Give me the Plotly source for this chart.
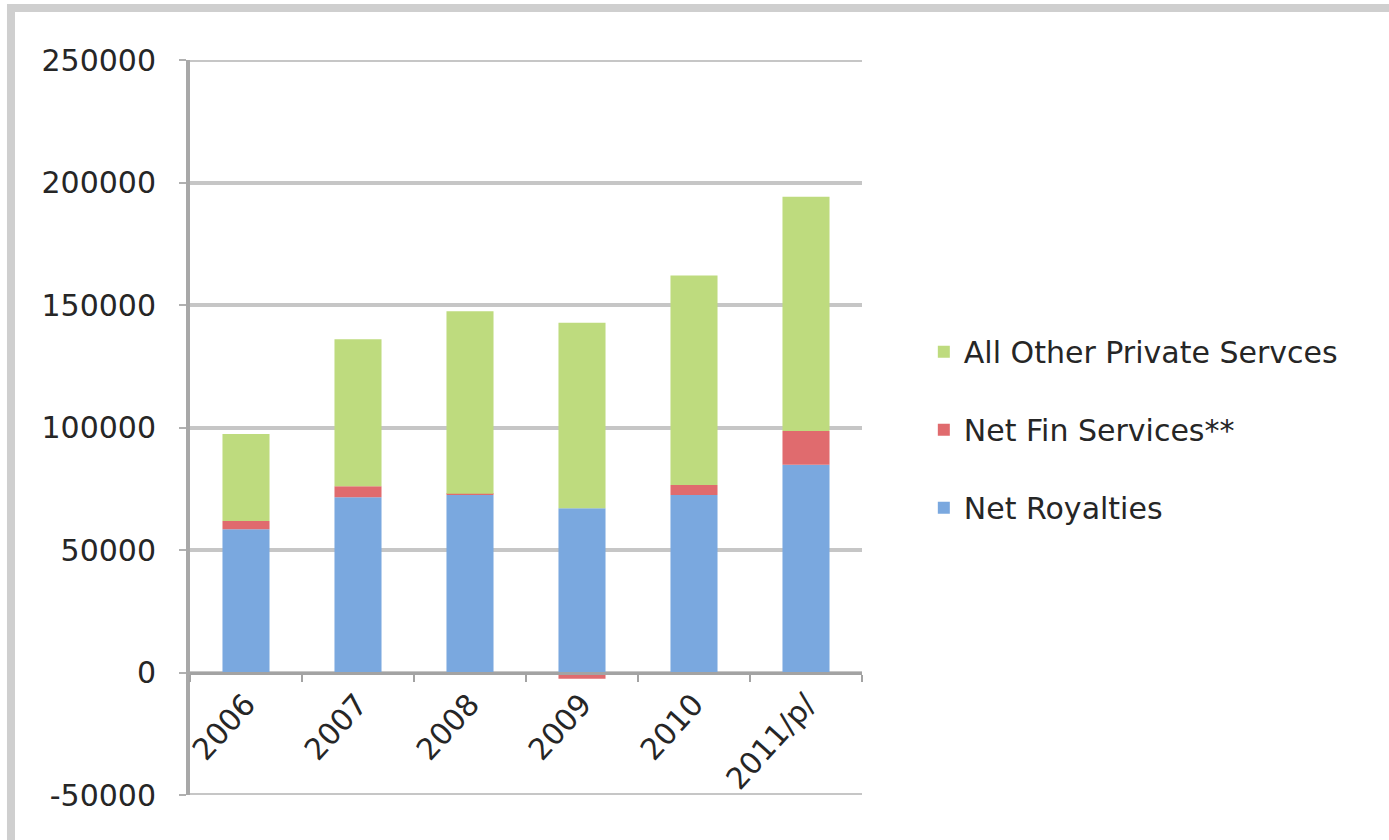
import plotly.graph_objects as go

# Categories and stacked series (thousands of USD)
years = ["2006", "2007", "2008", "2009", "2010", "2011/p/"]
net_royalties = [58500, 71500, 72500, 67000, 72500, 84800]
net_fin_services = [3300, 4500, 500, -2500, 4000, 13800]
all_other_private = [35500, 60000, 74500, 75800, 85500, 95600]

y_tickvals = [-50000, 0, 50000, 100000, 150000, 200000, 250000]
y_ticktext = ["-50000", "0", "50000", "100000", "150000", "200000", "250000"]
y_min, y_max = -50000, 250000

FONT = "DejaVu Sans"
TEXT = "#262626"
GRID = "#c6c6c6"

fig = go.Figure()
fig.add_trace(go.Bar(x=years, y=net_royalties, name="Net Royalties",
                     marker=dict(color="#7aa8df", line=dict(width=0)),
                     legendgroup="r", legendrank=3))
fig.add_trace(go.Bar(x=years, y=net_fin_services, name="Net Fin Services**",
                     marker=dict(color="#e06b6e", line=dict(width=0)),
                     legendgroup="f", legendrank=2))
fig.add_trace(go.Bar(x=years, y=all_other_private, name="All Other Private Servces",
                     marker=dict(color="#bedb7e", line=dict(width=0)),
                     legendgroup="o", legendrank=1))

# gridlines at both ends of the value range
edge_lines = [
    dict(type="line", xref="paper", yref="y", x0=0, x1=1, y0=v, y1=v,
         line=dict(color=GRID, width=4), layer="below")
    for v in (y_min, y_max)
]

fig.update_layout(
    width=1389, height=840,
    margin=dict(l=190, r=527, t=60, b=45),
    barmode="relative",
    bargap=0.58,
    paper_bgcolor="white",
    plot_bgcolor="white",
    font=dict(family=FONT, size=30, color=TEXT),
    showlegend=True,
    legend=dict(
        traceorder="grouped",
        x=1.092, xanchor="left",
        y=0.497, yanchor="middle",
        tracegroupgap=36,
        font=dict(family=FONT, size=30, color=TEXT),
        bgcolor="rgba(0,0,0,0)",
    ),
    xaxis=dict(
        type="category",
        anchor="free",
        position=1 / 6,
        showline=True, linecolor="#a3a3a3", linewidth=3,
        ticks="outside", tickson="boundaries", ticklen=7,
        tickcolor="#a3a3a3", tickwidth=2,
        tickangle=-48,
        showgrid=False,
        automargin=False,
        tickfont=dict(family=FONT, size=30, color=TEXT),
    ),
    yaxis=dict(
        range=[y_min, y_max],
        tickvals=y_tickvals, ticktext=y_ticktext,
        showgrid=True, gridcolor=GRID, gridwidth=4,
        zeroline=False,
        showline=True, linecolor="#a8a8a8", linewidth=4,
        ticks="outside", ticklen=7, tickcolor="#b0b0b0", tickwidth=2,
        ticklabelstandoff=17,
        automargin=False,
        tickfont=dict(family=FONT, size=30, color=TEXT),
    ),
    shapes=edge_lines + [
        # outer chart frame (top and left edges visible)
        dict(type="rect", xref="paper", yref="paper",
             x0=-0.2664, x1=2.2, y0=-0.5, y1=1.0707,
             line=dict(color="#cfcfcf", width=8), layer="below"),
    ],
)

fig.write_html("out.html")
